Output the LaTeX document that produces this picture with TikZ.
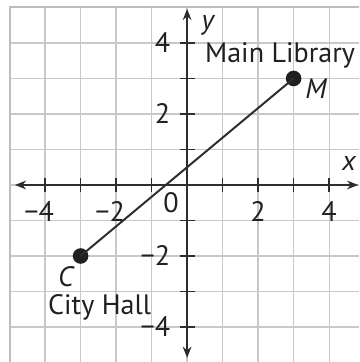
\documentclass[tikz,border=0pt]{standalone}
\usepackage{fontspec}
\setmainfont{PT Sans}
\usetikzlibrary{arrows.meta}
\definecolor{gridc}{RGB}{200,200,200}
\definecolor{bordc}{RGB}{190,190,190}
\definecolor{axc}{RGB}{45,45,45}
\definecolor{txt}{RGB}{35,31,32}
\newcommand{\labfont}{\fontsize{22.5}{24}\selectfont}
\tikzset{
  gridline/.style={draw=gridc, line width=1pt},
  borderline/.style={draw=bordc, line width=1.6pt},
  axis/.style={draw=axc, line width=1.2pt, -{Stealth[length=9pt,width=7pt]}},
  tick/.style={draw=axc, line width=1.1pt},
  lab/.style={text=txt, inner sep=0pt, font=\labfont},
  ilab/.style={text=txt, inner sep=0pt, font=\labfont\itshape},
  segline/.style={draw=axc, line width=1.6pt},
  pt/.style={circle, fill=txt, minimum size=12.5pt, inner sep=0pt},
}
\begin{document}
\begin{tikzpicture}
\useasboundingbox (-5.27,-4.986) rectangle (4.845,5.21);
\begin{scope}
\clip (-5.27,-4.986) rectangle (4.845,5.21);
\draw[gridline] (-5,-5) grid (4.845,5);
\draw[borderline] (4.9,5) -- (-5,5) -- (-5,-5) -- (4.9,-5);
\end{scope}
% axes
\coordinate (xl) at (-4.85,0);
\coordinate (xr) at (4.82,0);
\coordinate (yb) at (0,-4.87);
\coordinate (yt) at (0,4.96);
\coordinate (o) at (0,0);
\draw[axis] (o) -- (xr);
\draw[axis] (o) -- (xl);
\draw[axis] (o) -- (yt);
\draw[axis] (o) -- (yb);
\foreach \i in {-4,-3,-2,-1,1,2,3,4} {
  \draw[tick] (\i,-0.21) -- (\i,0.21);
  \draw[tick] (-0.21,\i) -- (0.21,\i);
}
% axis labels
\node[ilab] (xlab) at (4.56,0.6) {x};
\node[ilab] (ylab) at (0.58,4.5) {y};
% x tick labels
\node[lab] (xm4) at (-3.97,-0.76) {\llap{−}4};
\node[lab] (xm2) at (-1.97,-0.76) {\llap{−}2};
\node[lab] (x2) at (2,-0.76) {2};
\node[lab] (x4) at (4,-0.76) {4};
\node[lab] (zero) at (-0.45,-0.5) {0};
% y tick labels
\node[lab, anchor=east] (y4) at (-0.47,4) {4};
\node[lab, anchor=east] (y2) at (-0.47,2) {2};
\node[lab, anchor=east] (ym2) at (-0.47,-2) {−2};
\node[lab, anchor=east] (ym4) at (-0.47,-4) {−4};
% points
\node[pt] (C) at (-3,-2) {};
\node[pt] (M) at (3,3) {};
\draw[segline] (C.center) -- (M.center);
\node[ilab, text depth=0pt, anchor=base] (Clab) at (-3.42,-2.86) {C};
\node[ilab] (Mlab) at (3.63,2.72) {M};
\node[lab, anchor=base west] (lib) at (0.5,3.44) {Main Library};
\node[lab, anchor=base west, text height=0.52cm] (hall) at (-3.92,-3.66) {City Hall};
\end{tikzpicture}
\end{document}
